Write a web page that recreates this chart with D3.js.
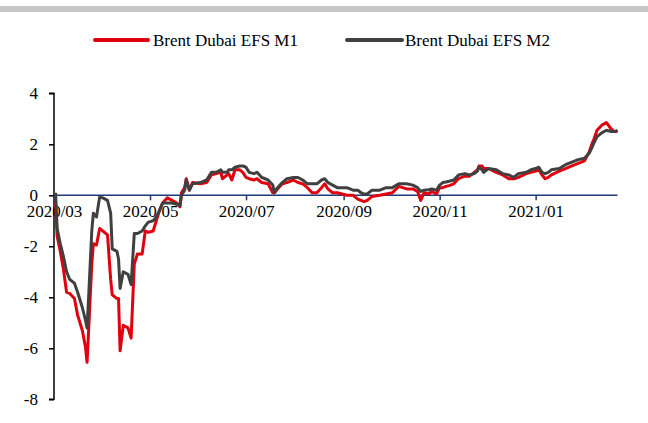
<!DOCTYPE html>
<html>
<head>
<meta charset="utf-8">
<script src="https://cdn.jsdelivr.net/npm/d3@7"></script>
<style>
  html, body { margin: 0; padding: 0; background: #fff; }
  svg { display: block; }
  text { font-family: "Liberation Serif", "Times New Roman", serif; fill: #000; }
</style>
</head>
<body>
<svg id="chart" width="648" height="423"></svg>
<script>
const seriesNames = ["Brent Dubai EFS M1", "Brent Dubai EFS M2"];
const xTickLabels = ["2020/03", "2020/05", "2020/07", "2020/09", "2020/11", "2021/01"];
const yTickValues = [-8, -6, -4, -2, 0, 2, 4];

const dates = [
 "2020-03-02","2020-03-03","2020-03-05","2020-03-07","2020-03-09","2020-03-11","2020-03-14","2020-03-16","2020-03-19","2020-03-21",
 "2020-03-22","2020-03-23","2020-03-25","2020-03-26","2020-03-28","2020-03-30","2020-04-01","2020-04-04","2020-04-06","2020-04-07",
 "2020-04-10","2020-04-11","2020-04-12","2020-04-14","2020-04-17","2020-04-19","2020-04-21","2020-04-23","2020-04-26","2020-04-28",
 "2020-04-30","2020-05-03","2020-05-05","2020-05-07","2020-05-09","2020-05-12","2020-05-15","2020-05-18","2020-05-20","2020-05-21",
 "2020-05-23","2020-05-24","2020-05-26","2020-05-28","2020-06-02","2020-06-06","2020-06-09","2020-06-12","2020-06-15","2020-06-16",
 "2020-06-19","2020-06-20","2020-06-22","2020-06-24","2020-06-27","2020-06-29","2020-07-01","2020-07-03","2020-07-06","2020-07-08",
 "2020-07-11","2020-07-15","2020-07-18","2020-07-19","2020-07-21","2020-07-24","2020-07-27","2020-07-31","2020-08-03","2020-08-06",
 "2020-08-09","2020-08-12","2020-08-15","2020-08-18","2020-08-20","2020-08-22","2020-08-25","2020-08-28","2020-08-31","2020-09-03",
 "2020-09-07","2020-09-10","2020-09-12","2020-09-14","2020-09-16","2020-09-19","2020-09-24","2020-09-28","2020-10-02","2020-10-06",
 "2020-10-11","2020-10-15","2020-10-18","2020-10-20","2020-10-22","2020-10-25","2020-10-27","2020-10-30","2020-11-01","2020-11-03",
 "2020-11-05","2020-11-07","2020-11-10","2020-11-13","2020-11-17","2020-11-20","2020-11-23","2020-11-25","2020-11-26","2020-11-28",
 "2020-11-29","2020-12-02","2020-12-07","2020-12-11","2020-12-15","2020-12-18","2020-12-21","2020-12-26","2020-12-29","2021-01-01",
 "2021-01-03","2021-01-05","2021-01-07","2021-01-09","2021-01-11","2021-01-16","2021-01-20","2021-01-24","2021-01-28","2021-02-01",
 "2021-02-04","2021-02-06","2021-02-07","2021-02-09","2021-02-12","2021-02-15","2021-02-18","2021-02-20","2021-02-22"
];

const m1 = [
 -0.3,-1.6,-2.2,-2.9,-3.8,-3.85,-4.05,-4.7,-5.3,-5.95,
 -6.55,-5.3,-2.7,-1.9,-1.95,-1.3,-1.4,-1.55,-3.3,-3.9,
 -4.05,-4.05,-6.1,-5.1,-5.2,-5.6,-2.7,-2.3,-2.3,-1.4,
 -1.45,-1.4,-1.0,-0.6,-0.3,-0.1,-0.2,-0.3,-0.45,0.1,
 0.3,0.65,0.2,0.5,0.45,0.5,0.8,0.85,0.9,0.65,
 0.8,0.85,0.6,1.0,1.0,0.9,0.7,0.65,0.6,0.65,
 0.5,0.45,0.1,0.1,0.25,0.45,0.5,0.6,0.5,0.45,
 0.3,0.1,0.1,0.3,0.45,0.25,0.1,0.1,0.05,0.0,
 0.0,-0.15,-0.2,-0.25,-0.2,-0.05,0.0,0.05,0.1,0.35,
 0.25,0.25,0.15,-0.2,0.1,0.05,0.15,0.05,0.3,0.3,
 0.35,0.38,0.45,0.65,0.75,0.75,0.9,1.0,1.15,1.15,
 1.05,1.05,0.9,0.8,0.65,0.65,0.7,0.85,0.9,0.95,
 1.0,0.8,0.65,0.7,0.8,0.95,1.05,1.15,1.25,1.35,
 1.7,2.05,2.2,2.55,2.75,2.85,2.6,2.5,2.5
];

const m2 = [
 0.1,-1.3,-1.9,-2.4,-3.0,-3.3,-3.45,-3.8,-4.4,-4.9,
 -5.2,-4.0,-1.4,-0.7,-0.85,-0.07,-0.1,-0.2,-0.7,-2.1,
 -2.2,-2.5,-3.65,-3.0,-3.1,-3.5,-1.5,-1.5,-1.4,-1.2,
 -1.05,-1.0,-0.85,-0.6,-0.3,-0.3,-0.3,-0.35,-0.4,0.0,
 0.2,0.6,0.2,0.45,0.5,0.6,0.9,0.9,1.0,0.9,
 0.9,1.0,1.0,1.1,1.15,1.15,1.1,0.9,0.85,0.9,
 0.7,0.6,0.4,0.1,0.3,0.5,0.65,0.7,0.7,0.6,
 0.45,0.45,0.45,0.6,0.65,0.5,0.4,0.3,0.3,0.3,
 0.2,0.2,0.1,0.05,0.05,0.2,0.2,0.3,0.3,0.45,
 0.45,0.4,0.3,0.15,0.2,0.22,0.25,0.2,0.4,0.5,
 0.52,0.55,0.6,0.8,0.85,0.8,0.85,0.95,1.1,1.0,
 0.9,1.05,1.0,0.85,0.8,0.7,0.85,0.9,1.0,1.05,
 1.1,0.9,0.85,0.9,1.0,1.05,1.2,1.3,1.4,1.45,
 1.65,1.9,2.05,2.3,2.45,2.55,2.5,2.5,2.55
];

const colors = ["#e1000f", "#404040"];

const parse = d3.timeParse("%Y-%m-%d");
const dateObjs = dates.map(parse);
const tickDates = xTickLabels.map(s => d3.timeParse("%Y/%m")(s));

const svg = d3.select("#chart");

// top grey band
svg.append("rect").attr("x", 0).attr("y", 6).attr("width", 648).attr("height", 6).attr("fill", "#c6c6c6");

const x = d3.scaleTime()
  .domain([parse("2020-03-01"), parse("2021-02-22")])
  .range([54, 617.5]);
const y = d3.scaleLinear().domain([-8, 4]).range([399.3, 93.3]);

// Y axis
const yAxis = svg.append("g").attr("transform", "translate(54,0)")
  .call(d3.axisLeft(y).tickValues(yTickValues).tickSize(5).tickPadding(11).tickFormat(d3.format("d")));
yAxis.select(".domain").attr("stroke", "#000").attr("stroke-width", 1.5).attr("d", `M-5,${y(4)}H0V${y(-8)}H-5`);
yAxis.selectAll(".tick line").attr("stroke", "#000").attr("stroke-width", 1.5);
yAxis.selectAll(".tick text").attr("font-size", 17).attr("font-family", "Liberation Serif").attr("fill", "#000")
  .text(d => d < 0 ? "-" + Math.abs(d) : d);

// X axis at zero
const xAxis = svg.append("g").attr("transform", `translate(0,${y(0)})`)
  .call(d3.axisBottom(x).tickValues(tickDates).tickSize(5).tickPadding(5)
    .tickFormat((d, i) => xTickLabels[i]));
xAxis.select(".domain").attr("stroke", "#1f3a78").attr("stroke-width", 1.5).attr("d", `M54,0H617.5`);
xAxis.selectAll(".tick line").attr("stroke", "#1f3a78").attr("stroke-width", 1.5);
xAxis.selectAll(".tick text").attr("font-size", 17).attr("font-family", "Liberation Serif").attr("fill", "#000");

// lines
const line = d3.line().x((d, i) => x(dateObjs[i])).y(d => y(d));
[m1, m2].forEach((s, k) => {
  svg.append("path").datum(s)
    .attr("fill", "none").attr("stroke", colors[k]).attr("stroke-width", 3)
    .attr("stroke-linejoin", "round").attr("d", line);
});

// legend
const legendPos = [{x1: 95, x2: 148, tx: 153}, {x1: 347, x2: 402, tx: 405}];
seriesNames.forEach((n, k) => {
  const p = legendPos[k];
  svg.append("line").attr("x1", p.x1).attr("x2", p.x2).attr("y1", 40).attr("y2", 40)
    .attr("stroke", colors[k]).attr("stroke-width", 4).attr("stroke-linecap", "round");
  svg.append("text").attr("x", p.tx).attr("y", 46).attr("font-size", 17).text(n);
});
</script>
</body>
</html>
